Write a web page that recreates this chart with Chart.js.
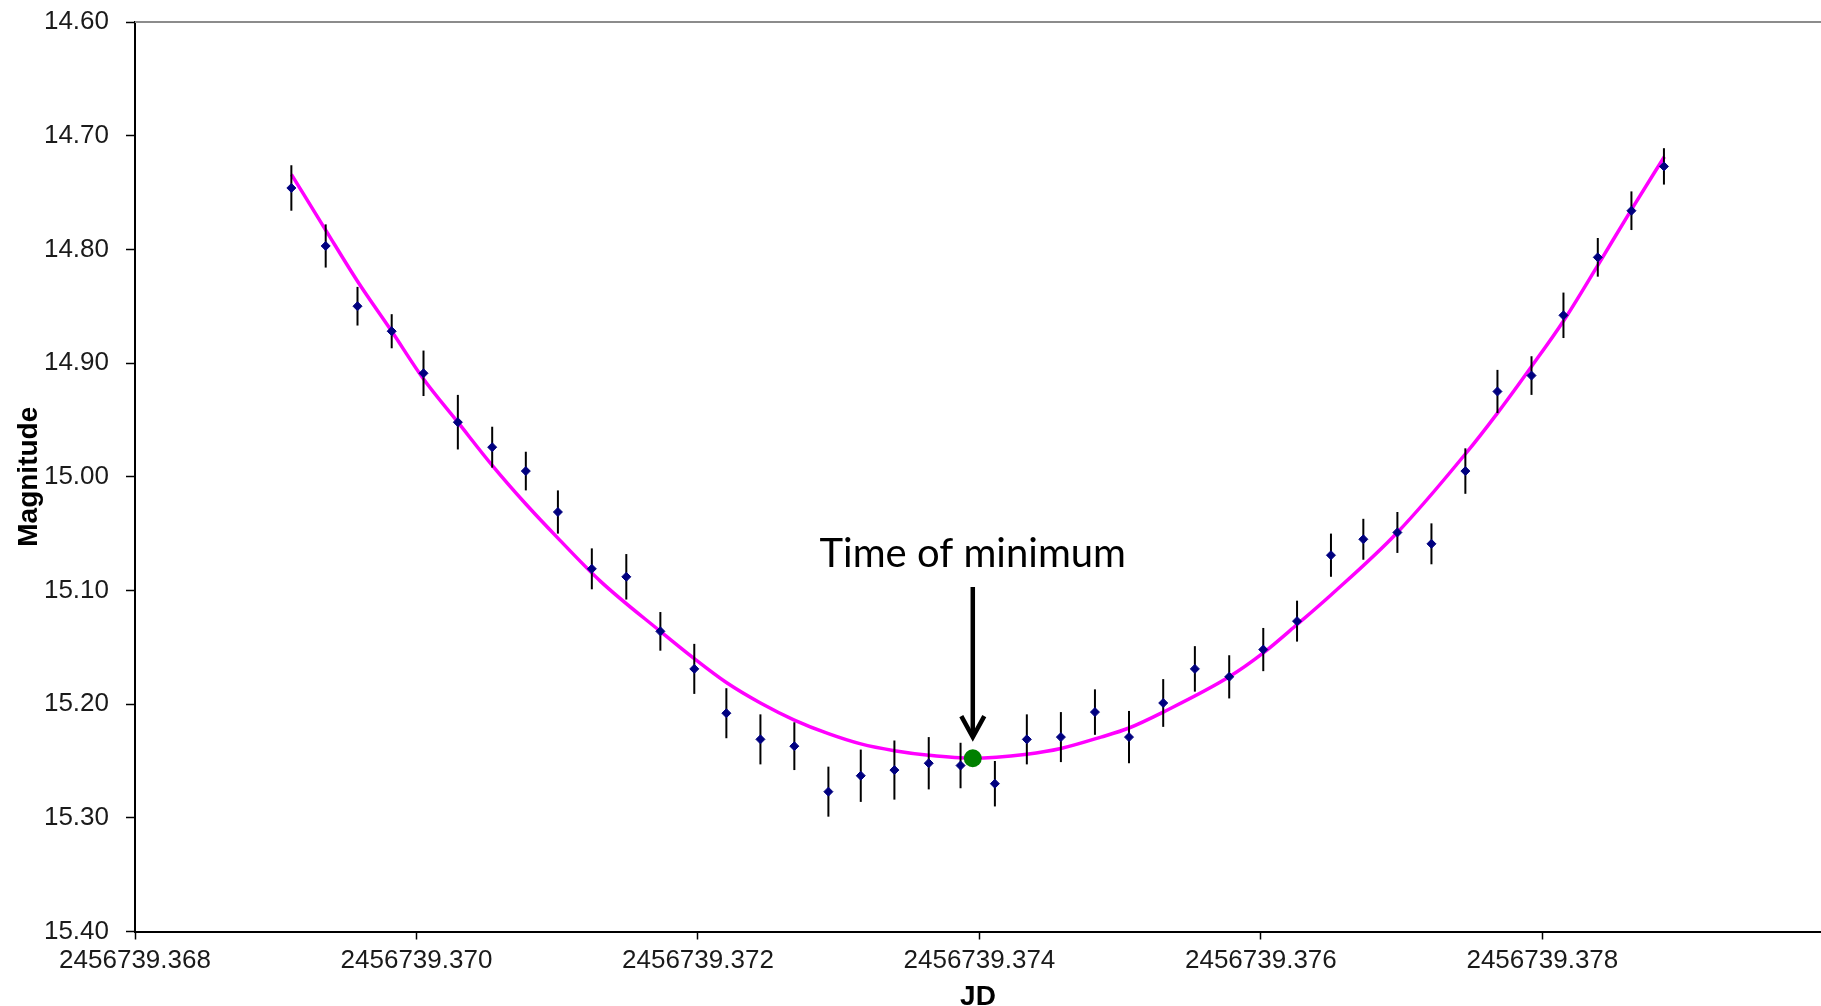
<!DOCTYPE html>
<html>
<head>
<meta charset="utf-8">
<script src="https://cdn.jsdelivr.net/npm/chart.js@4.4.0/dist/chart.umd.min.js"></script>
<style>
  html, body { margin:0; padding:0; background:#fff; }
  #wrap { width:1821px; height:1006px; }
</style>
</head>
<body>
<div id="wrap"><canvas id="minChart" width="1821" height="1006"></canvas></div>
<script>
// Observations (JD, magnitude, 1-sigma error)
const jd = [2456739.369111,2456739.369355,2456739.369581,2456739.369824,2456739.370050,2456739.370294,2456739.370538,
  2456739.370777,2456739.371005,2456739.371246,2456739.371491,2456739.371733,2456739.371974,2456739.372202,
  2456739.372444,2456739.372685,2456739.372927,2456739.373157,2456739.373396,2456739.373640,2456739.373866,
  2456739.374110,2456739.374337,2456739.374579,2456739.374821,2456739.375063,2456739.375306,2456739.375531,
  2456739.375775,2456739.376017,2456739.376257,2456739.376498,2456739.376728,2456739.376970,2456739.377212,
  2456739.377453,2456739.377681,2456739.377923,2456739.378150,2456739.378394,2456739.378633,2456739.378864];
const mag = [14.746,14.797,14.850,14.872,14.909,14.952,14.974,14.995,15.031,15.081,15.088,15.136,15.169,15.208,
  15.231,15.237,15.277,15.263,15.258,15.252,15.254,15.270,15.231,15.229,15.207,15.229,15.199,15.169,
  15.176,15.152,15.127,15.069,15.055,15.049,15.059,14.995,14.925,14.911,14.858,14.807,14.766,14.727];
const magErr = [0.020,0.019,0.017,0.015,0.020,0.024,0.018,0.017,0.019,0.018,0.020,0.017,0.022,0.022,
  0.022,0.021,0.022,0.023,0.026,0.023,0.020,0.020,0.022,0.022,0.020,0.023,0.021,0.020,
  0.019,0.019,0.018,0.019,0.018,0.018,0.018,0.020,0.019,0.017,0.020,0.017,0.017,0.016];

// Fitted curve
const fitJd = [2456739.369111,2456739.369355,2456739.369581,2456739.369824,2456739.370050,2456739.370294,
  2456739.370538,2456739.370777,2456739.371005,2456739.371308,2456739.371733,2456739.371974,2456739.372202,
  2456739.372444,2456739.372685,2456739.372927,2456739.373157,2456739.373396,2456739.373640,2456739.373953,
  2456739.374337,2456739.374579,2456739.374864,2456739.375063,2456739.375306,2456739.375775,2456739.376017,
  2456739.376257,2456739.376498,2456739.376970,2456739.377453,2456739.377681,2456739.377923,2456739.378150,
  2456739.378394,2456739.378633,2456739.378867];
const fitMag = [14.734,14.783,14.828,14.872,14.914,14.952,14.990,15.024,15.054,15.092,15.136,15.160,15.181,
  15.199,15.214,15.226,15.235,15.241,15.245,15.2476,15.244,15.239,15.229,15.221,15.207,15.176,15.155,
  15.130,15.104,15.049,14.980,14.944,14.903,14.863,14.814,14.765,14.7185];

// Time of minimum
const minJd = 2456739.373953;
const minMag = 15.2476;

// Axes
const xTickVals = [2456739.368,2456739.370,2456739.372,2456739.374,2456739.376,2456739.378];
const yTickVals = [14.6,14.7,14.8,14.9,15.0,15.1,15.2,15.3,15.4];

// Annotation (in data units)
const noteText = 'Time of minimum';
const noteMag = 15.079;
const arrowFromMag = 15.097;
const arrowToMag = 15.229;

const tickFont = {family:"'Liberation Sans', Arial, sans-serif", size:26};
const titleFont = {family:"'Liberation Sans', Arial, sans-serif", size:28, weight:'bold'};

const extras = {
  id:'extras',
  beforeDatasetsDraw(chart) {
    const {ctx, chartArea:a} = chart;
    ctx.save();
    ctx.strokeStyle = '#8c8c8c';
    ctx.lineWidth = 2;
    ctx.beginPath();
    ctx.moveTo(a.left, a.top);
    ctx.lineTo(a.right, a.top);
    ctx.stroke();
    ctx.restore();
  },
  beforeDatasetDraw(chart, args) {
    if (args.index !== 1) return;
    const {ctx, scales:{x, y}} = chart;
    ctx.save();
    ctx.strokeStyle = '#000';
    ctx.lineWidth = 2;
    jd.forEach((t, i) => {
      const px = x.getPixelForValue(t);
      ctx.beginPath();
      ctx.moveTo(px, y.getPixelForValue(mag[i] - magErr[i]));
      ctx.lineTo(px, y.getPixelForValue(mag[i] + magErr[i]));
      ctx.stroke();
    });
    ctx.restore();
  },
  afterDraw(chart) {
    const {ctx, scales:{x, y}} = chart;
    const px = x.getPixelForValue(minJd);
    const y0 = y.getPixelForValue(arrowFromMag);
    const y1 = y.getPixelForValue(arrowToMag);
    ctx.save();
    ctx.strokeStyle = '#000';
    ctx.lineWidth = 4.5;
    ctx.beginPath();
    ctx.moveTo(px, y0);
    ctx.lineTo(px, y1);
    ctx.stroke();
    ctx.beginPath();
    ctx.moveTo(px - 11.5, y1 - 21);
    ctx.lineTo(px, y1);
    ctx.lineTo(px + 11.5, y1 - 21);
    ctx.stroke();
    ctx.fillStyle = '#000';
    ctx.font = "40px Lato, 'Open Sans', sans-serif";
    ctx.textAlign = 'center';
    ctx.textBaseline = 'alphabetic';
    ctx.fillText(noteText, px, y.getPixelForValue(noteMag));
    ctx.restore();
  }
};

new Chart(document.getElementById('minChart'), {
  type:'scatter',
  data:{
    datasets:[
      {label:'Minimum', data:[{x:minJd, y:minMag}], pointStyle:'circle', pointRadius:9,
        backgroundColor:'#008000', borderColor:'#008000', borderWidth:0, order:0},
      {label:'Observations', data:jd.map((t,i) => ({x:t, y:mag[i]})), pointStyle:'rectRot', pointRadius:4.5,
        backgroundColor:'#000080', borderColor:'#000080', borderWidth:1, order:1},
      {label:'Fit', data:fitJd.map((t,i) => ({x:t, y:fitMag[i]})), showLine:true, borderColor:'#ff00ff',
        borderWidth:3.5, pointRadius:0, cubicInterpolationMode:'monotone', order:2}
    ]
  },
  options:{
    responsive:false, animation:false,
    layout:{autoPadding:false, padding:{top:22, right:0, bottom:0, left:0}},
    plugins:{legend:{display:false}, tooltip:{enabled:false}},
    scales:{
      x:{
        type:'linear', min:2456739.368, max:2456739.37998,
        afterBuildTicks:s => { s.ticks = xTickVals.map(v => ({value:v})); },
        afterFit:s => { s.height = 74.5; s.paddingLeft = 0; s.paddingRight = 0; },
        border:{color:'#000', width:2},
        grid:{drawOnChartArea:false, tickLength:8, tickColor:'#000', tickWidth:1.5},
        ticks:{color:'#1a1a1a', font:tickFont, padding:6, maxRotation:0, callback:v => v.toFixed(3)},
        title:{display:true, text:'JD', color:'#000', font:titleFont, padding:{top:0, bottom:-8}}
      },
      y:{
        type:'linear', reverse:true, min:14.6, max:15.4,
        afterBuildTicks:s => { s.ticks = yTickVals.map(v => ({value:v})); },
        afterFit:s => { s.width = 135; s.paddingTop = 0; s.paddingBottom = 0; },
        border:{color:'#000', width:2},
        grid:{drawOnChartArea:false, tickLength:9, tickColor:'#000', tickWidth:1.5},
        ticks:{color:'#1a1a1a', font:tickFont, padding:17, callback:v => v.toFixed(2)},
        title:{display:true, text:'Magnitude', color:'#000', font:titleFont, padding:{top:12, bottom:0}}
      }
    }
  },
  plugins:[extras]
});
</script>
</body>
</html>
